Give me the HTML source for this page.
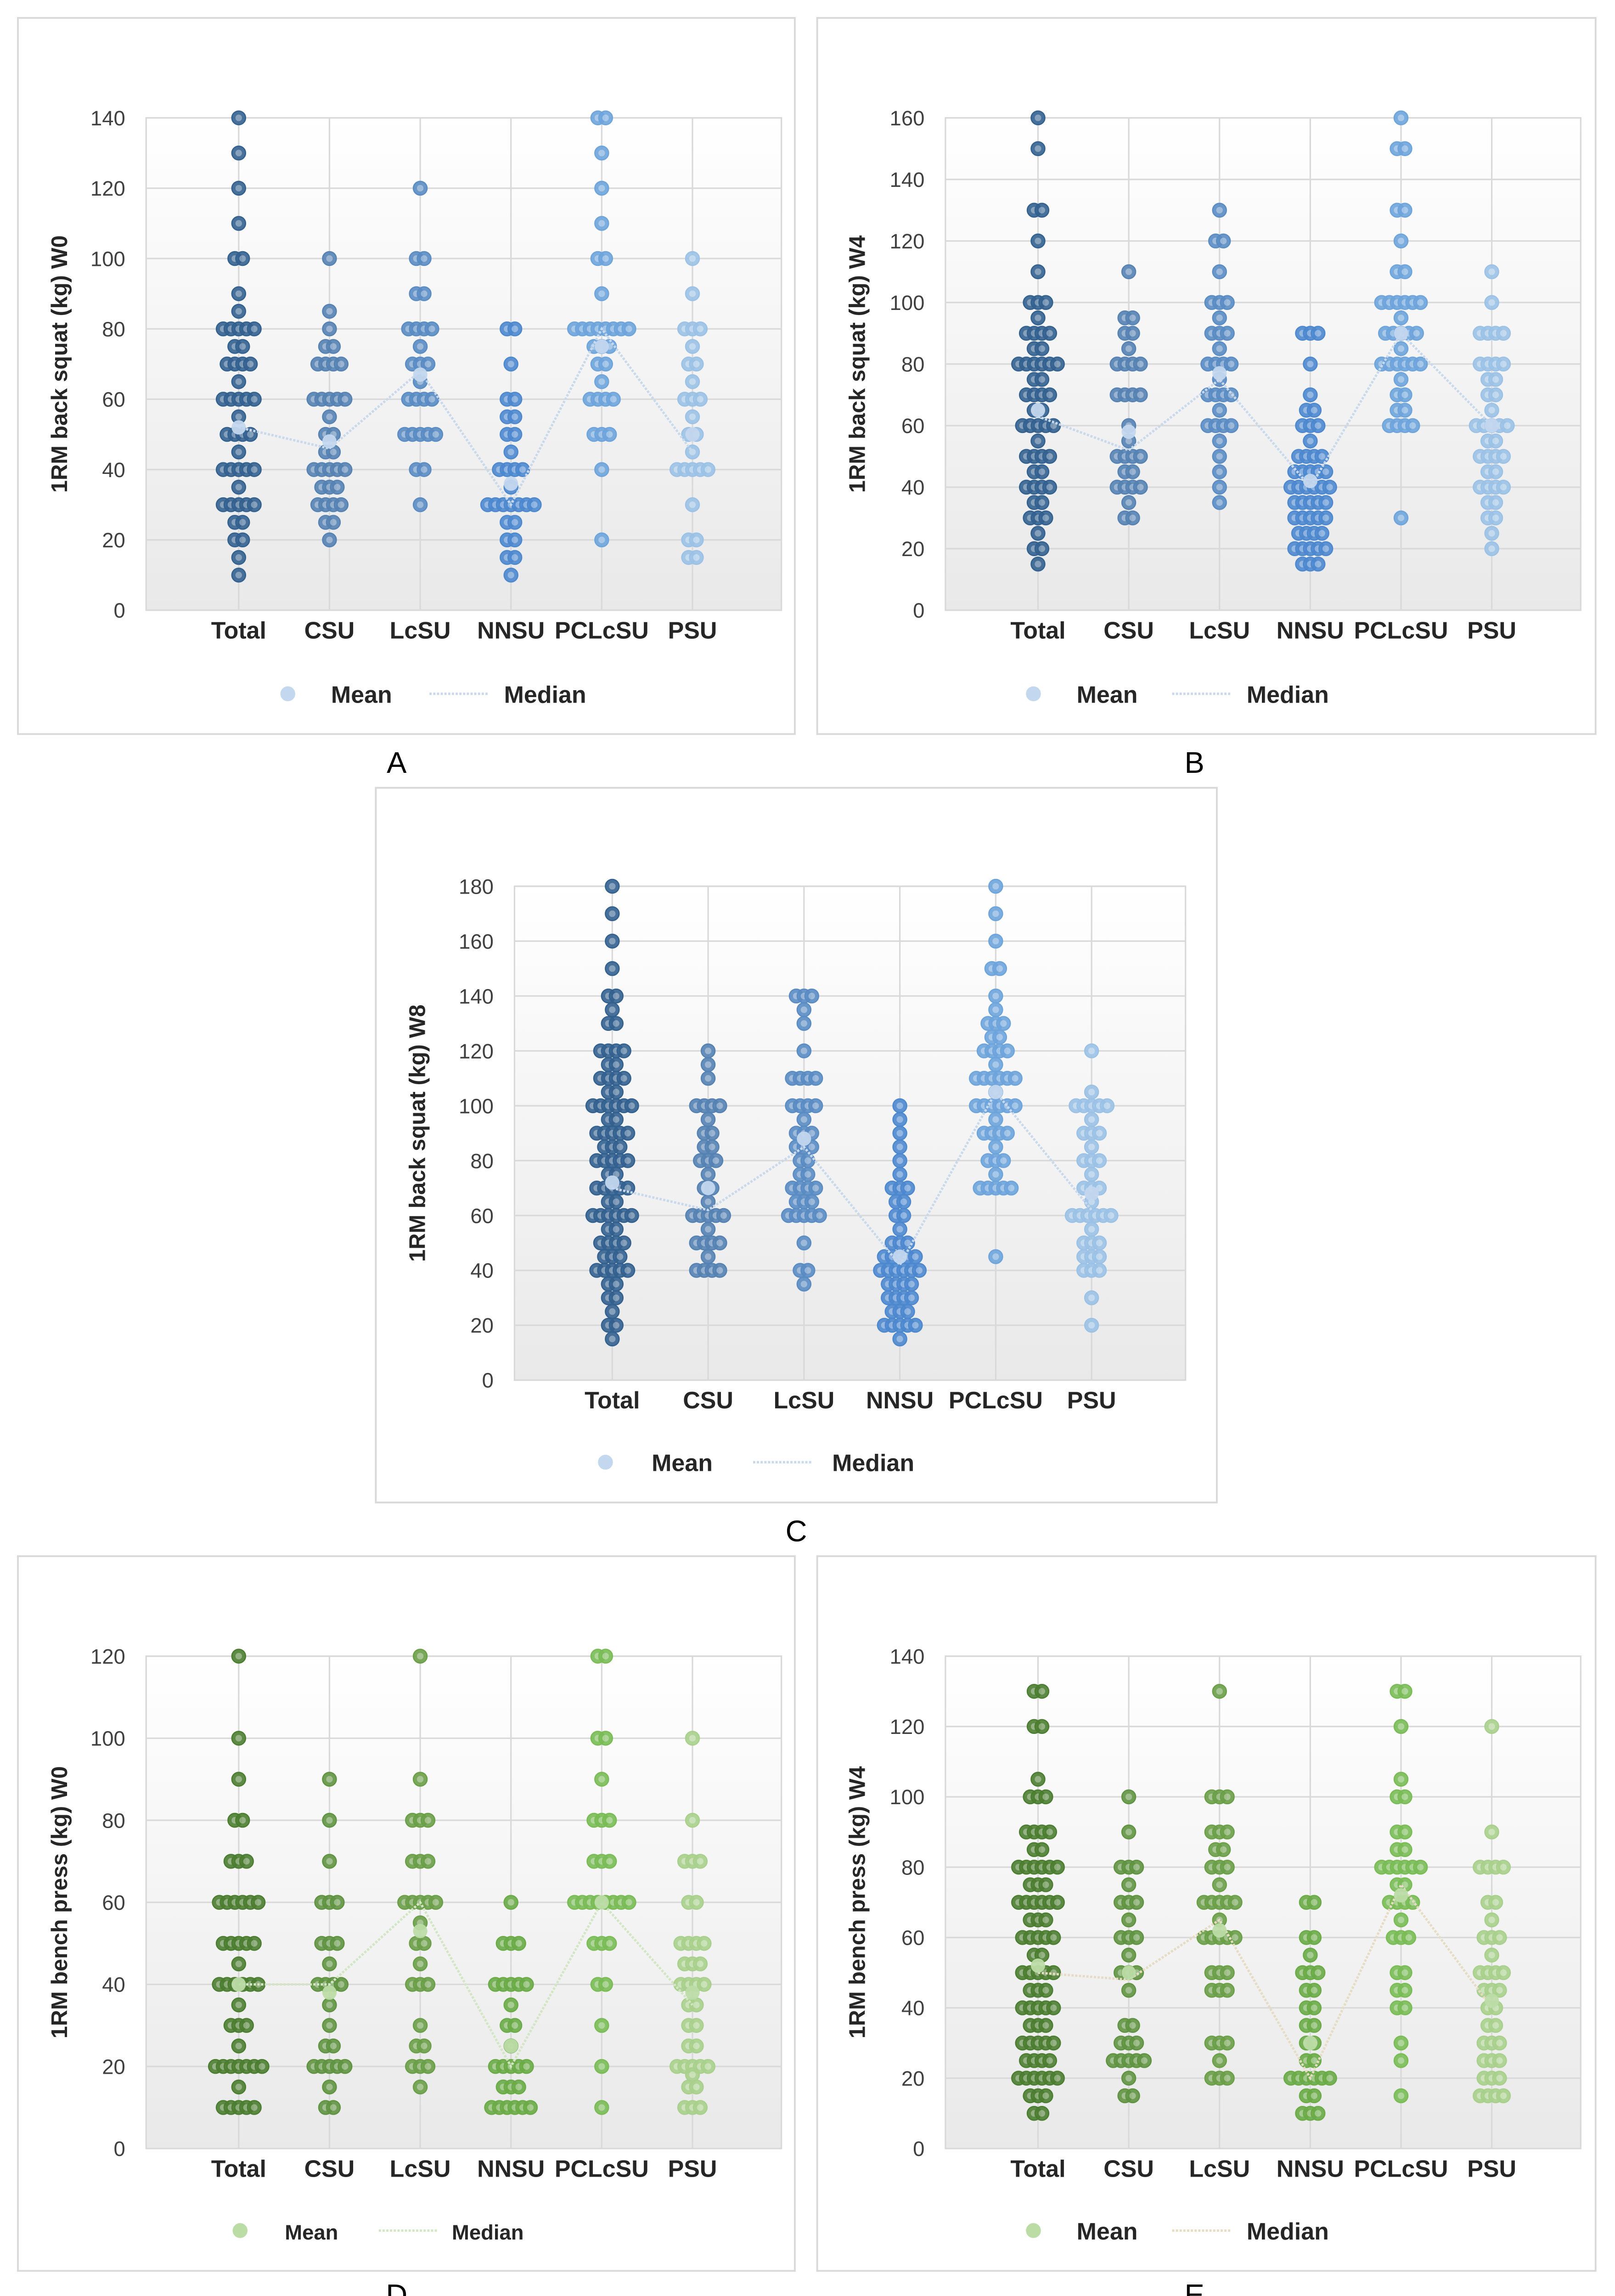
<!DOCTYPE html>
<html><head><meta charset="utf-8"><style>
html,body{margin:0;padding:0;background:#fff;width:3517px;height:5072px;overflow:hidden}
svg{display:block;position:absolute;left:0;top:0}
text{font-family:"Liberation Sans",Arial,sans-serif}
</style></head><body>
<svg id="fig" width="3517" height="5072" viewBox="0 0 1083 1561" preserveAspectRatio="none" xmlns="http://www.w3.org/2000/svg">
<defs>
<linearGradient id="bg" x1="0" y1="0" x2="0" y2="1"><stop offset="0" stop-color="#ffffff"/><stop offset="1" stop-color="#e9e9e9"/></linearGradient>
</defs>
</svg>
<script>
const categories = ["Total","CSU","LcSU","NNSU","PCLcSU","PSU"];
const A_data = [
 [[140,1],[130,1],[120,1],[110,1],[100,2],[90,1],[85,1],[80,5],[75,2],[70,4],[65,1],[60,5],[55,1],[50,4],[45,1],[40,5],[35,1],[30,5],[25,2],[20,2],[15,1],[10,1]],
 [[100,1],[85,1],[80,1],[75,2],[70,4],[60,5],[55,1],[50,2],[45,2],[40,5],[35,3],[30,4],[25,2],[20,1]],
 [[120,1],[100,2],[90,2],[80,4],[75,1],[70,3],[65,1],[60,4],[50,5],[40,2],[30,1]],
 [[80,2],[70,1],[60,2],[55,2],[50,2],[45,1],[40,4],[35,1],[30,7],[25,2],[20,2],[15,2],[10,1]],
 [[140,2],[130,1],[120,1],[110,1],[100,2],[90,1],[80,8],[75,3],[70,2],[65,1],[60,4],[50,3],[40,1],[20,1]],
 [[100,1],[90,1],[80,3],[75,1],[70,2],[65,1],[60,3],[55,1],[50,2],[45,1],[40,5],[30,1],[20,2],[15,2]]];
const A_mean = [52,48,67,36,75,50];
const A_median = [52,46,68,30,80,45];
const B_data = [
 [[160,1],[150,1],[130,2],[120,1],[110,1],[100,3],[95,1],[90,4],[85,2],[80,6],[75,2],[70,4],[65,2],[60,5],[55,1],[50,4],[45,2],[40,4],[35,2],[30,3],[25,1],[20,2],[15,1]],
 [[110,1],[95,2],[90,2],[85,1],[80,4],[70,4],[60,1],[55,1],[50,4],[45,2],[40,4],[35,1],[30,2]],
 [[130,1],[120,2],[110,1],[100,3],[95,1],[90,3],[85,1],[80,4],[75,1],[70,4],[65,1],[60,4],[55,1],[50,1],[45,1],[40,1],[35,1]],
 [[90,3],[80,1],[70,1],[65,2],[60,3],[55,1],[50,4],[45,5],[40,6],[35,5],[30,5],[25,4],[20,5],[15,3]],
 [[160,1],[150,2],[130,2],[120,1],[110,2],[100,6],[95,1],[90,5],[85,1],[80,6],[75,1],[70,2],[65,2],[60,4],[30,1]],
 [[110,1],[100,1],[90,4],[80,4],[75,2],[70,2],[65,1],[60,5],[55,2],[50,4],[45,2],[40,4],[35,2],[30,2],[25,1],[20,1]]];
const B_mean = [65,58,77,42,90,60];
const B_median = [63,52,75,40,90,60];
const C_data = [
 [[180,1],[170,1],[160,1],[150,1],[140,2],[135,1],[130,2],[120,4],[115,2],[110,4],[105,2],[100,6],[95,2],[90,5],[85,3],[80,5],[75,2],[70,5],[65,2],[60,6],[55,2],[50,4],[45,3],[40,5],[35,2],[30,2],[25,1],[20,2],[15,1]],
 [[120,1],[115,1],[110,1],[100,4],[95,1],[90,2],[85,2],[80,3],[75,1],[70,2],[65,1],[60,5],[55,1],[50,4],[45,1],[40,4]],
 [[140,3],[135,1],[130,1],[120,1],[110,4],[100,4],[95,1],[90,3],[85,3],[80,2],[75,2],[70,4],[65,3],[60,5],[50,1],[40,2],[35,1]],
 [[100,1],[95,1],[90,1],[85,1],[80,1],[75,1],[70,3],[65,2],[60,2],[55,1],[50,3],[45,5],[40,6],[35,4],[30,4],[25,3],[20,5],[15,1]],
 [[180,1],[170,1],[160,1],[150,2],[140,1],[135,1],[130,3],[125,2],[120,4],[115,1],[110,6],[105,1],[100,6],[95,1],[90,4],[85,1],[80,3],[75,1],[70,5],[45,1]],
 [[120,1],[105,1],[100,5],[95,1],[90,3],[85,1],[80,3],[75,1],[70,3],[65,1],[60,6],[55,1],[50,3],[45,3],[40,3],[30,1],[20,1]]];
const C_mean = [72,70,88,45,105,68];
const C_median = [70,62,85,42,105,62];
const D_data = [
 [[120,1],[100,1],[90,1],[80,2],[70,3],[60,6],[50,5],[45,1],[40,6],[35,1],[30,3],[25,1],[20,7],[15,1],[10,5]],
 [[90,1],[80,1],[70,1],[60,3],[50,3],[45,1],[40,4],[35,1],[30,1],[25,2],[20,5],[15,1],[10,2]],
 [[120,1],[90,1],[80,3],[70,3],[60,5],[55,1],[50,2],[45,1],[40,3],[30,1],[25,2],[20,3],[15,1]],
 [[60,1],[50,3],[40,5],[35,1],[30,2],[25,1],[20,5],[15,3],[10,6]],
 [[120,2],[100,2],[90,1],[80,3],[70,3],[60,8],[50,3],[40,2],[30,1],[20,1],[10,1]],
 [[100,1],[80,1],[70,3],[60,2],[50,4],[45,3],[40,4],[35,2],[30,2],[25,2],[20,5],[18,1],[15,2],[10,3]]];
const D_mean = [40,38,53,25,60,38];
const D_median = [40,40,60,20,60,35];
const E_data = [
 [[130,2],[120,2],[105,1],[100,3],[90,4],[85,2],[80,6],[75,3],[70,6],[65,3],[60,5],[55,2],[50,5],[45,3],[40,5],[35,3],[30,5],[25,4],[20,6],[15,3],[10,2]],
 [[100,1],[90,1],[80,3],[75,1],[70,3],[65,1],[60,3],[55,1],[50,3],[45,1],[35,2],[30,3],[25,5],[20,1],[15,2]],
 [[130,1],[100,3],[90,3],[85,2],[80,3],[75,1],[70,5],[65,1],[60,5],[50,3],[45,3],[30,3],[25,1],[20,3]],
 [[70,2],[60,2],[55,1],[50,3],[45,2],[40,2],[35,2],[30,2],[25,2],[20,6],[15,2],[10,3]],
 [[130,2],[120,1],[105,1],[100,2],[90,2],[85,2],[80,6],[75,2],[70,4],[65,1],[60,3],[50,2],[45,2],[40,2],[30,1],[25,1],[15,1]],
 [[120,1],[90,1],[80,4],[70,2],[65,1],[60,3],[55,1],[50,4],[45,3],[40,2],[35,2],[30,3],[25,3],[20,3],[15,4]]];
const E_mean = [52,50,62,30,72,42];
const E_median = [50,48,65,20,75,40];

const blues = ["#33618f","#5582b3","#5a8cc3","#4d88cf","#6ea4dc","#9bc2e6"];
const greens = ["#4b7d30","#5f9341","#6a9f48","#6aab47","#79bb55","#a8d08c"];
const NS="http://www.w3.org/2000/svg";
const svg=document.getElementById('fig');
function mk(tag,attrs,parent){const e=document.createElementNS(NS,tag);for(const k in attrs)e.setAttribute(k,attrs[k]);(parent||svg).appendChild(e);return e;}

const panels=[
 {id:"a",box:[12,12,533,492],plot:[98,79,524,409],max:140,step:20,data:A_data,mean:A_mean,median:A_median,cols:blues,title:"1RM back squat (kg) W0",tx:45,letter:"A",lx:266,ly:518,leg:[193,222,288,328,338],legY:465,ms:"#c3d7ee",ls:"#c9d9ec"},
 {id:"b",box:[548,12,1070,492],plot:[634,79,1060,409],max:160,step:20,data:B_data,mean:B_mean,median:B_median,cols:blues,title:"1RM back squat (kg) W4",tx:580,letter:"B",lx:801,ly:518,leg:[693,722,786,826,836],legY:465,ms:"#c3d7ee",ls:"#c9d9ec"},
 {id:"c",box:[252,528,816,1007],plot:[345,594,795,925],max:180,step:20,data:C_data,mean:C_mean,median:C_median,cols:blues,title:"1RM back squat (kg) W8",tx:285,letter:"C",lx:534,ly:1033,leg:[406,437,505,545,558],legY:980,ms:"#c3d7ee",ls:"#c9d9ec"},
 {id:"d",box:[12,1043,533,1522],plot:[98,1110,524,1440],max:120,step:20,data:D_data,mean:D_mean,median:D_median,cols:greens,title:"1RM bench press (kg) W0",tx:45,letter:"D",lx:266,ly:1545,leg:[161,191,254,294,303],legY:1495,ms:"#bcdca6",ls:"#d3e6c4",small:true},
 {id:"e",box:[548,1043,1070,1522],plot:[634,1110,1060,1440],max:140,step:20,data:E_data,mean:E_mean,median:E_median,cols:greens,title:"1RM bench press (kg) W4",tx:580,letter:"E",lx:801,ly:1545,leg:[693,722,786,826,836],legY:1495,ms:"#bcdca6",ls:"#e6dcc4"}
];

panels.forEach(p=>{
 const g=mk('g',{});
 
 
 const [bx0,by0,bx1,by1]=p.box;
 const frame=mk('rect',{x:bx0,y:by0,width:bx1-bx0,height:by1-by0,fill:"#fff",stroke:"#d9d9d9","stroke-width":1.2},g);
 
 
 const [x0,y0,x1,y1]=p.plot;
 const ys=v=>y1-(v/p.max)*(y1-y0);
 const cw=(x1-x0)/7.0;
 const xc=i=>x0+cw*(1+i)+(cw*0.02);
 const bg=mk('rect',{x:x0,y:y0,width:x1-x0,height:y1-y0,fill:"url(#bg)",stroke:"#d9d9d9","stroke-width":1},g);
 
 
 for(let v=0;v<=p.max;v+=p.step){
  const gl=mk('line',{x1:x0,x2:x1,y1:ys(v),y2:ys(v),stroke:"#d9d9d9","stroke-width":1},g);
  
  
  const t=mk('text',{x:x0-14,y:ys(v)+5,"text-anchor":"end","font-size":14,fill:"#404040"},g);
  t.textContent=v;
  
  
 }
 categories.forEach((c,i)=>{
  const vl=mk('line',{x1:xc(i),x2:xc(i),y1:y0,y2:y1,stroke:"#d9d9d9","stroke-width":1},g);
  
  
  const t=mk('text',{x:xc(i),y:y1+19,"text-anchor":"middle","font-size":16,"font-weight":"bold",fill:"#262626"},g);
  t.textContent=c;
  
  
 });
 p.data.forEach((arr,i)=>{
  const col=p.cols[i];
  arr.forEach(([v,n])=>{
   for(let k=0;k<n;k++){
    const off=(k-(n-1)/2)*5.2;
    const c=mk('circle',{cx:xc(i)+off,cy:ys(v),r:4.6,fill:col,stroke:col,"stroke-width":0.8,"fill-opacity":0.9},g);
    
    
    mk('circle',{cx:xc(i)+off,cy:ys(v),r:2.2,fill:"#ffffff","fill-opacity":0.35},g);
   }
  });
 });
 const pts=p.median.map((v,i)=>xc(i)+","+ys(v)).join(" ");
 const ml=mk('polyline',{points:pts,fill:"none",stroke:p.ls,"stroke-width":1.6,"stroke-dasharray":"1.5 1"},g);
 
 
 p.mean.forEach((v,i)=>{
  const m=mk('circle',{cx:xc(i),cy:ys(v),r:4.8,fill:p.ms,"fill-opacity":0.95},g);
  
  
 });
 const cy=(y0+y1)/2;
 const at=mk('text',{x:p.tx,y:cy,"text-anchor":"middle","font-size":15,"font-weight":"bold",fill:"#262626",transform:`rotate(-90 ${p.tx} ${cy})`},g);
 at.textContent=p.title;
 
 
 const [mx,tx1,lx0,lx1,tx2]=p.leg, ly=p.legY;
 const lm=mk('circle',{cx:mx,cy:ly,r:5,fill:p.ms},g);
 
 
 const fs=p.small?14:16;
 const t1=mk('text',{x:tx1,y:ly+6,"font-size":fs,"font-weight":"bold",fill:"#262626"},g);
 t1.textContent="Mean";
 
 
 const ll=mk('line',{x1:lx0,x2:lx1,y1:ly,y2:ly,stroke:p.ls,"stroke-width":1.6,"stroke-dasharray":"1.5 1"},g);
 
 
 const t2=mk('text',{x:tx2,y:ly+6,"font-size":fs,"font-weight":"bold",fill:"#262626"},g);
 t2.textContent="Median";
 
 
 const L=mk('text',{x:p.lx,y:p.ly,"text-anchor":"middle","font-size":20,fill:"#000","font-family":"Liberation Serif, serif"},g);
 L.textContent=p.letter;
 
 
});
</script>
</body></html>
